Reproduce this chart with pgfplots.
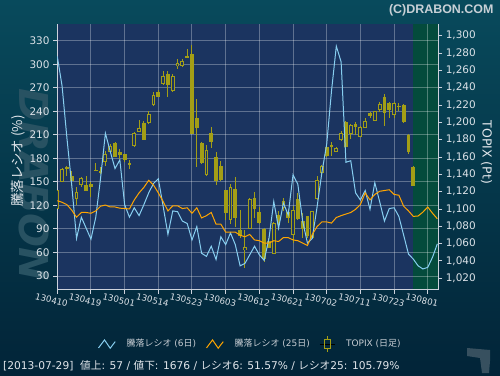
\documentclass[border=0pt]{standalone}
\usepackage{fontspec}
\setmainfont{DejaVu Sans}
\newfontfamily\jp{Noto Sans CJK JP}
\newfontfamily\lib{Liberation Sans}
\usepackage{pgfplots}
\usepackage{pgfplotstable}
\pgfplotsset{compat=1.18}
\definecolor{bgtop}{RGB}{8,74,92}
\definecolor{bgbot}{RGB}{2,36,56}
\definecolor{plotblue}{RGB}{27,52,96}
\definecolor{plotgreen}{RGB}{4,75,60}
\definecolor{axisc}{RGB}{205,210,220}
\definecolor{tickc}{RGB}{220,226,232}
\definecolor{labelc}{RGB}{225,230,235}
\definecolor{legc}{RGB}{200,206,212}
\definecolor{titlec}{RGB}{200,208,214}
\definecolor{olivec}{RGB}{163,158,22}
\definecolor{skyc}{RGB}{135,206,240}
\definecolor{orangec}{RGB}{255,165,0}
\definecolor{wmc}{RGB}{40,82,98}
\definecolor{logoc}{RGB}{55,80,95}

\pgfplotstableread{
x top bot hi lo
2 1148 1146 1150 1138
3 1137.6 1131.8 1144 1126.6
6 1127.7 1121.1 1138 1121
7 1128.5 1125.8 1131.5 1114
8 1145.4 1143.5 1152.7 1143.5
9 1144.2 1141.6 1148.8 1140.4
12 1176.2 1159.7 1177 1159.7
13 1165.4 1162.7 1169.2 1157.7
14 1163.5 1156.9 1164 1153.9
15 1153.4 1151.1 1156.6 1146.2
18 1199.2 1180 1201 1180
21 1235.4 1229.6 1237.7 1228.9
23 1255.8 1243.5 1259.6 1229.6
27 1276.9 1274.6 1284.7 1274.6
28 1278.9 1187 1289 1187
29 1205 1193 1227 1148
30 1176.2 1152.7 1177 1152
32 1187.7 1177.7 1195 1170
33 1159.7 1132.7 1165.4 1128
34 1149.3 1133.8 1155.8 1132.7
35 1121.9 1095.4 1122 1087
37 1123 1089.3 1136.5 1079
38 1075.8 1068.9 1099 1067
41 1112.7 1099.6 1120 1090
42 1096.2 1083.5 1102 1083
43 1077 1042.3 1078 1038.8
44 1062.7 1055 1067 1055
46 1093.4 1084.6 1097.6 1076
48 1096.2 1089.3 1100 1084
50 1111.6 1088.5 1119 1087
51 1086.5 1076.9 1095 1067
52 1091.6 1068.5 1092 1067
56 1171.9 1161.5 1173 1160.5
57 1173.9 1171.9 1177 1161.5
60 1200.8 1171.2 1202 1170.5
62 1198 1194.3 1200.8 1185
65 1210.4 1207.7 1212.3 1205
68 1229.6 1210.4 1232.3 1196
69 1222 1214.3 1223 1205
71 1219.2 1217.4 1221.9 1212.7
72 1220 1200.8 1221 1199
73 1185.4 1165.4 1186.5 1163
74 1148.8 1126.9 1149.5 1126.5
}\filledC

\pgfplotstableread{
x top bot hi lo
0 1121 1101 1122 1100
1 1146 1132 1147 1131
4 1118.8 1111.5 1125.8 1104.6
5 1135.4 1127.7 1137.3 1125.8
10 1163.5 1155 1167.3 1150
11 1172.4 1166.1 1175 1165.4
16 1187.7 1173 1189 1172
17 1193.5 1189.7 1202.7 1189.7
19 1209.6 1199.2 1212.7 1198
20 1231.6 1220.4 1234.7 1219.2
22 1252.7 1244.3 1259.6 1243
24 1252.7 1236.5 1255.8 1235.4
25 1268.5 1265 1273 1261.9
26 1270 1265.4 1273 1264
31 1168 1139.6 1173.6 1138.6
36 1125 1087.3 1128.8 1082.7
39 1055.8 1053 1076 1032
40 1111.6 1077.8 1112.5 1077
45 1083.5 1048.9 1085 1048
47 1108.5 1102 1112.7 1098
49 1098.8 1070 1103.8 1061
53 1096.9 1067.3 1098 1066
54 1133.5 1111.6 1138 1110.5
55 1149.3 1142.4 1151 1137
58 1170.4 1166.6 1172 1165.5
59 1187.7 1179.6 1189.6 1179
61 1196.1 1186.6 1198 1181
63 1194.3 1183.5 1195.5 1183
64 1201.2 1194.3 1204.7 1193.5
66 1212.7 1201.9 1213.5 1201.5
67 1221.2 1214.3 1223 1212
70 1222.3 1208.8 1224 1205
}\hollowC

\pgfplotstableread{
x r6 r25
0 310 126
1 272 124
2 206 121
3 146 114
4 78 105
5 105 111
6 91 111
7 77 110
8 105 113
9 155 119
10 212 120.5
11 189 118
12 167 118
13 178 116.5
14 121 116
15 105 115.5
16 117 127
17 107 136
18 121 143
19 136 152
20 148 146
21 154 136
22 119 125
23 83 113
24 113 119.5
25 112 119.5
26 100 116
27 97 117
28 76 110
29 93 117
30 59 104
31 55 107
32 68 111
33 51 96
34 80 96
35 70 86
36 85 86
37 70 86
38 43 82
39 46 80
40 57 83
41 68 76
42 57 75
43 50 72
44 78 72
45 125 75
46 91 74
47 123 79
48 108 79
49 159 76
50 147 75
51 100 72
52 72 69
53 78 83
54 118 93
55 162 99
56 198 99
57 266 97.5
58 323 104.6
59 303 107
60 175 109
61 177 111
62 136 115
63 127 121
64 139 136
65 115 127
66 149 134
67 125 138
68 100 139
69 116 140
70 117 134
71 106 133
72 82 119
73 58 113
74 51.6 106
75 43 106.5
76 39 111.5
77 41 118
78 54 110
79 71 103
}\ratio

\pgfplotsset{
  myaxis/.style={scale only axis, width=381.3bp, height=265.5bp,
    at={(57bp,85.5bp)}, anchor=south west, xmin=-0.06, xmax=79.2},
  zigzag/.style={legend image code/.code={\draw[##1] (0bp,-4bp) -- (6bp,4bp) -- (11.7bp,-4.3bp) -- (16.7bp,2.3bp);}},
  candleleg/.style={legend image code/.code={
    \path (-4bp,0bp) -- (11bp,0bp);
    \draw[olivec, line width=1bp] (3.5bp,-8bp) -- (3.5bp,-4.5bp);
    \draw[olivec, line width=1bp] (3.5bp,4.5bp) -- (3.5bp,8bp);
    \draw[olivec, line width=1bp] (0.5bp,-4.5bp) rectangle (6.5bp,4.5bp);}},
}

\begin{document}
\begin{tikzpicture}[x=1bp,y=1bp]
\useasboundingbox (0,0) rectangle (500,375);
\shade[top color=bgtop, bottom color=bgbot] (0,0) rectangle (500,375);
\node[rotate=-90, font=\fontsize{40}{40}\selectfont\bfseries\itshape, text=wmc] at (34,190) {DRABON};
\fill[logoc] (467,27) -- (490,25) -- (490,14) -- (489,2) -- (482,2) -- (480,17) -- (467,19) -- cycle;

% background regions
\begin{axis}[myaxis, hide axis, ymin=0, ymax=1]
\addplot[fill=plotblue, draw=none] coordinates {(-0.06,0) (73.95,0) (73.95,1) (-0.06,1)} -- cycle;
\addplot[fill=plotgreen, draw=none] coordinates {(73.95,0) (79.2,0) (79.2,1) (73.95,1)} -- cycle;
\end{axis}

% left axis, grid, x ticks
\begin{axis}[myaxis, ymin=12.8, ymax=351.3,
  axis x line*=bottom, axis y line*=left,
  axis line style={draw=axisc, line width=1bp},
  ytick={30,60,...,330},
  xtick={0,7,...,77},
  xticklabels={130410,130419,130501,130514,130523,130603,130612,130621,130702,130711,130723,130801},
  grid=major, grid style={draw=white, opacity=0.3, line width=1bp},
  tick style={draw=axisc, line width=1bp},
  tick align=outside, major tick length=4bp,
  /pgf/number format/assume math mode=true,
  yticklabel style={font=\fontsize{10.5}{12}\selectfont, text=tickc},
  xticklabel style={font=\fontsize{8.7}{10}\selectfont, text=tickc, rotate=-14, anchor=north, xshift=-4bp, yshift=-1bp},
]
\end{axis}

% right axis with candles
\begin{axis}[myaxis, ymin=1007.1, ymax=1313.5,
  axis y line*=right, axis x line=none,
  axis line style={draw=axisc, line width=1bp},
  ytick={1020,1040,...,1300},
  tick style={draw=axisc, line width=1bp},
  tick align=outside, major tick length=4bp,
  /pgf/number format/assume math mode=true,
  /pgf/number format/1000 sep={,},
  yticklabel style={font=\fontsize{10.5}{12}\selectfont, text=tickc},
]
% wicks
\addplot[draw=none, mark=none, forget plot,
  error bars/.cd, y dir=both, y explicit, error mark=none,
  error bar style={draw=olivec, line width=1bp}]
  table[x=x, y expr={(\thisrow{hi}+\thisrow{lo})/2}, y error expr={(\thisrow{hi}-\thisrow{lo})/2}] {\filledC};
\addplot[draw=none, mark=none, forget plot,
  error bars/.cd, y dir=both, y explicit, error mark=none,
  error bar style={draw=olivec, line width=1bp}]
  table[x=x, y expr={(\thisrow{hi}+\thisrow{lo})/2}, y error expr={(\thisrow{hi}-\thisrow{lo})/2}] {\hollowC};
% filled bodies
\addplot[draw=none, mark=none, forget plot,
  error bars/.cd, y dir=both, y explicit, error mark=none,
  error bar style={draw=olivec, line width=3.8bp}]
  table[x=x, y expr={(\thisrow{top}+\thisrow{bot})/2}, y error expr={(\thisrow{top}-\thisrow{bot})/2}] {\filledC};
% hollow bodies
\addplot[draw=none, mark=none, forget plot,
  error bars/.cd, y dir=both, y explicit, error mark=none,
  error bar style={draw=olivec, line width=3.8bp}]
  table[x=x, y expr={(\thisrow{top}+\thisrow{bot})/2}, y error expr={(\thisrow{top}-\thisrow{bot})/2+0.5}] {\hollowC};
\addplot[draw=none, mark=none, forget plot,
  error bars/.cd, y dir=both, y explicit, error mark=none,
  error bar style={draw=plotblue, line width=1.8bp}]
  table[x=x, y expr={(\thisrow{top}+\thisrow{bot})/2}, y error expr={max((\thisrow{top}-\thisrow{bot})/2-0.7,0)}] {\hollowC};
\end{axis}

% ratio lines and legend
\begin{axis}[myaxis, ymin=12.8, ymax=351.3, hide axis,
  legend style={at={(0.507,-0.205)}, anchor=center, draw=none, fill=none,
    text=legc, font=\fontsize{9}{11}\selectfont, legend columns=3,
    /tikz/every even column/.append style={column sep=8bp},
    /tikz/every odd column/.append style={column sep=9bp}},
  legend cell align=left,
]
\addplot[skyc, line width=1bp, zigzag] table[x=x, y=r6] {\ratio};
\addlegendentry{{\jp 騰落レシオ} (6{\jp 日})}
\addplot[orangec, line width=1bp, zigzag] table[x=x, y=r25] {\ratio};
\addlegendentry{{\jp 騰落レシオ} (25{\jp 日})}
\addlegendimage{candleleg}
\addlegendentry{TOPIX ({\jp 日足})}
\end{axis}

% texts
\node[anchor=north east, font=\lib\bfseries\fontsize{12.5}{14}\selectfont, text=titlec] at (497,374) {(C)DRABON.COM};
\node[rotate=90, font=\jp\fontsize{13.5}{15}\selectfont, text=labelc] at (18.5,214) {騰落レシオ (\%)};
\node[rotate=-90, font=\fontsize{12.5}{14}\selectfont, text=labelc] at (486.5,222.5) {TOPIX (Pt)};
\node[anchor=base west, inner sep=0pt, font=\fontsize{10.7}{13}\selectfont, text=labelc] at (3,6) {[2013-07-29]\ \ {\jp 値上}: 57 / {\jp 値下}: 1676 / {\jp レシオ}6: 51.57\% / {\jp レシオ}25: 105.79\%};
\end{tikzpicture}
\end{document}
